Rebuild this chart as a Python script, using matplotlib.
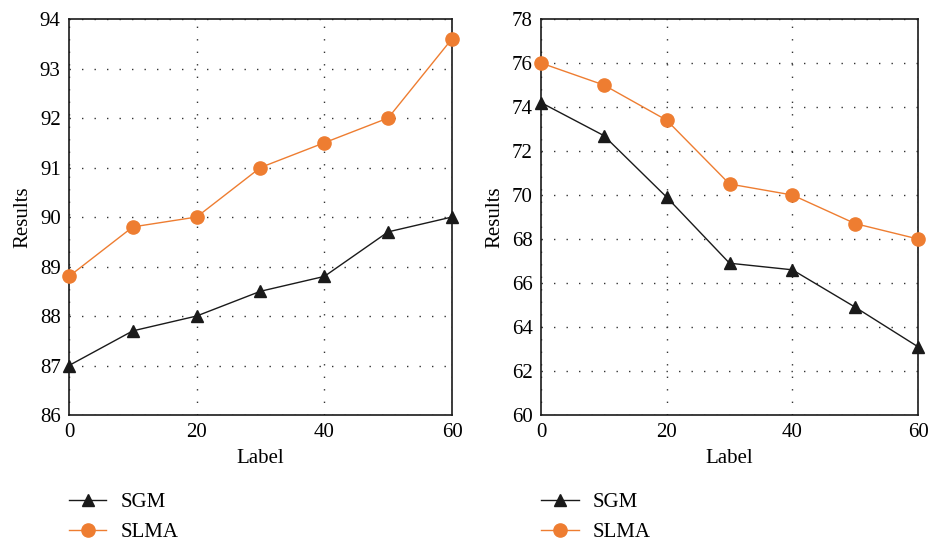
import numpy as np
from matplotlib import pyplot as plt

labels = [0, 10, 20, 30, 40, 50, 60]
sgm_left = [87.0, 87.7, 88.0, 88.5, 88.8, 89.7, 90.0]
slma_left = [88.8, 89.8, 90.0, 91.0, 91.5, 92.0, 93.6]
sgm_right = [74.2, 72.7, 69.9, 66.9, 66.6, 64.9, 63.1]
slma_right = [76.0, 75.0, 73.4, 70.5, 70.0, 68.7, 68.0]

plt.rcParams['font.family'] = ['Liberation Serif', 'DejaVu Serif']
orange = '#EE7D31'

fig = plt.figure(figsize=(9.31, 5.43), dpi=100)
ax1 = fig.add_axes([0.0741, 0.2357, 0.4114, 0.7293])
ax2 = fig.add_axes([0.5811, 0.2357, 0.4050, 0.7293])


def draw(ax, sgm, slma, ylim, yticks):
    ax.plot(labels, sgm, color='#1a1a1a', marker='^', markersize=9, linewidth=1, label='SGM', zorder=3, clip_on=False)
    ax.plot(labels, slma, color=orange, marker='o', markersize=9.5, linewidth=1, label='SLMA', zorder=3, clip_on=False)
    ax.set_xlim(0, 60)
    ax.set_ylim(*ylim)
    ax.set_xticks([0, 20, 40, 60])
    ax.set_yticks(yticks)
    ax.tick_params(length=0, labelsize=15, pad=6)
    ax.grid(True, color='#333333', linestyle=(0, (1, 8)), linewidth=1)
    for s in ax.spines.values():
        s.set_linewidth(1.2)
        s.set_color('#1a1a1a')
    ax.set_xlabel('Label', fontsize=15, labelpad=5)
    ax.set_ylabel('Results', fontsize=15, labelpad=5)
    ax.legend(loc='upper left', bbox_to_anchor=(0.0, -0.195), frameon=False, fontsize=15,
              handlelength=1.8, handletextpad=0.7, labelspacing=0.5, borderaxespad=0,
              borderpad=0)


draw(ax1, sgm_left, slma_left, (86, 94), np.arange(86, 95, 1))
draw(ax2, sgm_right, slma_right, (60, 78), np.arange(60, 79, 2))

fig.savefig('out.png', dpi=100)
